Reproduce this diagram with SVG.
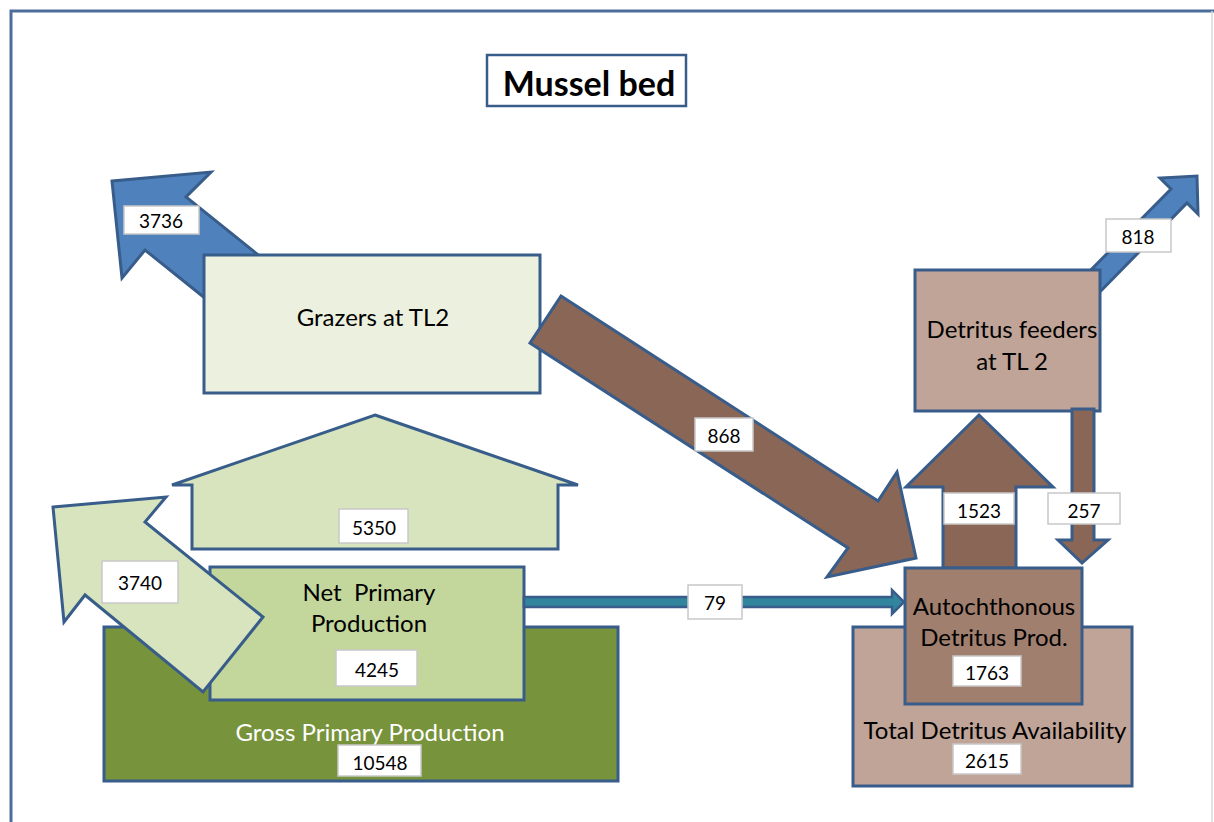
<svg xmlns="http://www.w3.org/2000/svg" width="1214" height="822" viewBox="0 0 1214 822">
<style>
  .frame{fill:none;stroke:#4a6d99;stroke-width:3}
  .sh{stroke:#385d8a;stroke-width:3;stroke-linejoin:miter}
  .lbl{fill:#ffffff;stroke:#c8c8c8;stroke-width:1.5}
  .t{font-family:Lato,"Liberation Sans",sans-serif;fill:#000;text-anchor:middle;dominant-baseline:central}
  .big{font-size:24px}
  .num{font-size:19px}
</style>
<rect width="1214" height="822" fill="#ffffff"/>
<path class="frame" d="M11,822 L11,11 L1214,11"/>
<line x1="1212" y1="11" x2="1212" y2="822" stroke="#d9d9d9" stroke-width="1.5"/>

<g id="title">
  <rect x="487" y="55" width="199" height="51" fill="#ffffff" stroke="#385d8a" stroke-width="2.5"/>
  <text class="t" x="589" y="82" style="font-size:34px;font-weight:bold">Mussel bed</text>
</g>

<g id="connectors">
  <g id="arrow-3736">
    <polygon class="sh" fill="#4f81bd" points="112,181 211,172 186,197 272,266 231,319 145,250 122,278"/>
  </g>
  <g id="arrow-818">
    <polygon class="sh" fill="#4f81bd" points="1197,176 1198,214 1187,203 1092,300 1076,285 1171,189 1160,178"/>
  </g>
  <g id="arrow-1523">
    <polygon class="sh" fill="#896656" points="979,415 1053,487 1016,487 1016,568 943,568 943,487 906,487"/>
  </g>
</g>

<g id="grazers">
  <rect class="sh" x="204" y="255" width="336" height="138" fill="#ebf1de"/>
  <text class="t big" x="373" y="316">Grazers at TL2</text>
</g>

<g id="detritus-feeders">
  <rect class="sh" x="915" y="270" width="185" height="141" fill="#c0a497"/>
  <text class="t big" x="1012" y="328">Detritus feeders</text>
  <text class="t big" x="1012" y="360">at TL 2</text>
</g>

<g id="total-detritus">
  <rect class="sh" x="853" y="627" width="279" height="159" fill="#c0a497"/>
  <text class="t big" x="995" y="729">Total Detritus Availability</text>
  <rect class="lbl" x="953" y="744" width="68" height="30"/>
  <text class="t num" x="987" y="760">2615</text>
</g>

<g id="autochthonous">
  <rect class="sh" x="905" y="568" width="177" height="136" fill="#a17f6f"/>
  <text class="t big" x="994" y="605">Autochthonous</text>
  <text class="t big" x="994" y="636">Detritus Prod.</text>
  <rect class="lbl" x="953" y="656" width="68" height="30"/>
  <text class="t num" x="987" y="672">1763</text>
</g>

<g id="gpp">
  <rect class="sh" x="104" y="627" width="514" height="154" fill="#77933c"/>
  <text class="t big" x="370" y="731" style="fill:#ffffff">Gross Primary Production</text>
  <rect class="lbl" x="338" y="745" width="83" height="31"/>
  <text class="t num" x="380" y="762">10548</text>
</g>

<g id="npp">
  <rect class="sh" x="210" y="567" width="314" height="133" fill="#c3d69b"/>
  <text class="t big" x="369" y="591" xml:space="preserve">Net  Primary</text>
  <text class="t big" x="369" y="622">Production</text>
  <rect class="lbl" x="336" y="650" width="81" height="36"/>
  <text class="t num" x="377" y="669">4245</text>
</g>

<g id="consumption-5350">
  <polygon class="sh" fill="#d7e4bd" points="375,415 578,485 558,485 558,549 192,549 192,485 172,485"/>
  <rect class="lbl" x="339" y="509" width="69" height="34"/>
  <text class="t num" x="374" y="527">5350</text>
</g>

<g id="connectors-top">
  <g id="arrow-3740">
    <polygon class="sh" fill="#d7e4bd" points="53,507 166,497 145,522 263,617 203,692 85,595 64,622"/>
    <rect class="lbl" x="102" y="561" width="76" height="42"/>
    <text class="t num" x="140" y="582">3740</text>
  </g>
  <g id="arrow-868">
    <polygon class="sh" fill="#896656" points="561,296 878,501 897,472 916,558 827,577 848,548 530,343"/>
    <rect class="lbl" x="695" y="418" width="58" height="33"/>
    <text class="t num" x="724" y="435">868</text>
  </g>
  <g id="arrow-79">
    <polygon fill="#31859c" stroke="#385d8a" stroke-width="2.5" points="524,597 892,597 892,590 904,602 892,614 892,607 524,607"/>
    <rect class="lbl" x="688" y="585" width="54" height="34"/>
    <text class="t num" x="715" y="602">79</text>
  </g>
  <g id="arrow-257">
    <polygon class="sh" fill="#896656" points="1072,409 1094,409 1094,540 1108,540 1082,563 1058,540 1072,540"/>
    <rect class="lbl" x="1048" y="493" width="72" height="31"/>
    <text class="t num" x="1084" y="510">257</text>
  </g>
  <g id="label-1523">
    <rect class="lbl" x="944" y="493" width="70" height="31"/>
    <text class="t num" x="979" y="510">1523</text>
  </g>
  <g id="label-3736">
    <rect class="lbl" x="124" y="206" width="75" height="28"/>
    <text class="t num" x="161" y="220">3736</text>
  </g>
  <g id="label-818">
    <rect class="lbl" x="1106" y="219" width="65" height="33"/>
    <text class="t num" x="1138" y="236">818</text>
  </g>
</g>
</svg>
